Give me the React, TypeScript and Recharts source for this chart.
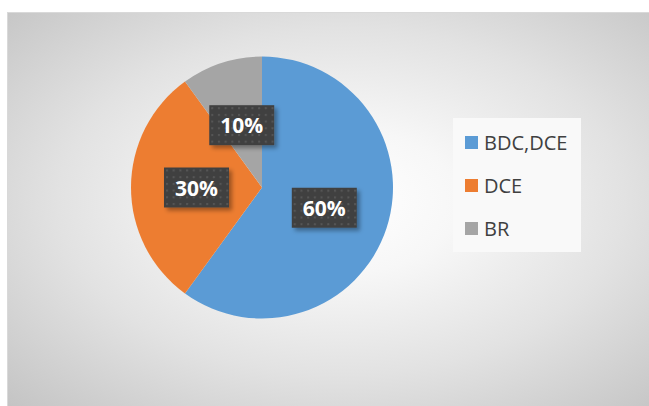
import React from 'react';
import { PieChart, Pie, Cell, Legend } from 'recharts';

const categories = ['BDC,DCE', 'DCE', 'BR'];
const values = [60, 30, 10];
const colors = ['#5B9BD5', '#ED7D31', '#A5A5A5'];

const data = categories.map((name, i) => ({ name, value: values[i] }));

const RADIAN = Math.PI / 180;

const renderLabel = (props: any) => {
  const { cx, cy, midAngle, outerRadius, percent, index } = props;
  const r = outerRadius * 0.5;
  const x = cx + r * Math.cos(-midAngle * RADIAN);
  const y = cy + r * Math.sin(-midAngle * RADIAN);
  const w = 65;
  const h = 40;
  const pid = `dots-${index}`;
  const fid = `shadow-${index}`;
  return (
    <g>
      <defs>
        <pattern id={pid} x={x - w / 2} y={y - h / 2} width={6.7} height={6.7} patternUnits="userSpaceOnUse">
          <rect x={0} y={0} width={6.7} height={6.7} fill="#404040" />
          <rect x={2} y={2} width={2} height={2} fill="#575757" />
        </pattern>
        <filter id={fid} x="-20%" y="-20%" width="150%" height="160%">
          <feDropShadow dx={3} dy={3} stdDeviation={2} floodColor="#000" floodOpacity={0.35} />
        </filter>
      </defs>
      <rect x={x - w / 2} y={y - h / 2} width={w} height={h} fill={`url(#${pid})`} filter={`url(#${fid})`} />
      <text
        x={x}
        y={y}
        fill="#ffffff"
        textAnchor="middle"
        dominantBaseline="central"
        fontFamily="'Open Sans', 'Noto Sans', sans-serif"
        fontWeight={700}
        fontSize={21}
      >
        {`${Math.round(percent * 100)}%`}
      </text>
    </g>
  );
};

const renderLegend = () => {
  return (
    <div
      style={{
        width: 128,
        height: 134,
        background: '#f9f9f9',
        boxSizing: 'border-box',
        paddingTop: 3,
        paddingLeft: 12,
      }}
    >
      {categories.map((name, i) => (
        <div
          key={name}
          style={{
            display: 'flex',
            alignItems: 'center',
            height: 43,
            fontFamily: "'Open Sans', 'Noto Sans', sans-serif",
            fontSize: 20,
            color: '#404040',
          }}
        >
          <span
            style={{
              display: 'inline-block',
              width: 13,
              height: 13,
              background: colors[i],
              marginRight: 6,
            }}
          />
          <span>{name}</span>
        </div>
      ))}
    </div>
  );
};

export default function App() {
  return (
    <div style={{ position: 'absolute', left: 0, top: 0, width: 649, height: 406, background: '#ffffff' }}>
      <div
        style={{
          position: 'absolute',
          left: 7,
          top: 12,
          width: 642,
          height: 394,
          boxSizing: 'border-box',
          borderTop: '1px solid #d9d9d9',
          borderLeft: '1px solid #d9d9d9',
          background:
            'radial-gradient(ellipse farthest-corner at 52% 48%, #ffffff 0%, #f7f7f7 25%, #e2e2e2 60%, #c4c4c4 100%)',
        }}
      />
      <div style={{ position: 'absolute', left: 0, top: 0 }}>
        <PieChart width={649} height={406} margin={{ top: 0, right: 0, bottom: 0, left: 0 }}>
          <Pie
            data={data}
            dataKey="value"
            nameKey="name"
            cx={262}
            cy={187.5}
            outerRadius={131}
            startAngle={90}
            endAngle={-270}
            stroke="none"
            label={renderLabel}
            labelLine={false}
            isAnimationActive={false}
          >
            {data.map((d, i) => (
              <Cell key={d.name} fill={colors[i]} />
            ))}
          </Pie>
          <Legend
            content={renderLegend}
            wrapperStyle={{ position: 'absolute', left: 453, top: 118, width: 128, height: 134 }}
          />
        </PieChart>
      </div>
    </div>
  );
}
